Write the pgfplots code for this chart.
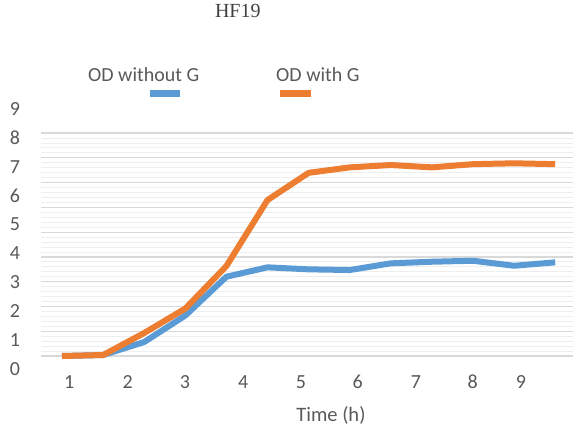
\documentclass[border=0pt]{standalone}
\usepackage{pgfplots}
\usepackage{pgfplotstable}
\pgfplotsset{compat=1.18}
\usepackage{fontspec}
\setmainfont{Carlito}
\newfontfamily\titlefont{Liberation Serif}
\definecolor{odblue}{HTML}{5B9BD5}
\definecolor{odorange}{HTML}{ED7D31}
\definecolor{txtgray}{HTML}{595959}
\definecolor{titlegray}{HTML}{404040}
\definecolor{majgrid}{HTML}{D9D9D9}
\definecolor{mingrid}{HTML}{EEEEEE}

\pgfplotstableread{
i without with
0 0.450 0.450
1 0.484 0.484
2 0.934 1.246
3 1.851 2.093
4 3.194 3.564
5 3.519 5.848
6 3.450 6.790
7 3.426 6.980
8 3.657 7.060
9 3.713 6.980
10 3.747 7.090
11 3.574 7.120
12 3.692 7.090
}\oddata

\begin{document}
\begin{tikzpicture}
\useasboundingbox (0,0) rectangle (573pt,428pt);
\begin{axis}[
  at={(41pt,57.55pt)}, anchor=south west,
  scale only axis, width=532pt, height=262.9pt,
  xmin=-0.511, xmax=12.433, ymin=-0.05, ymax=9.05,
  axis line style={draw=none},
  major tick length=0pt, minor tick length=0pt,
  xtick={0.178,1.599,2.993,4.411,5.815,7.195,8.613,9.993,11.168},
  xticklabels={1,2,3,4,5,6,7,8,9},
  ytick={0,1,...,9},
  yticklabels={0,1,2,3,4,5,6,7,8,9},
  /pgf/number format/assume math mode=true,
  xticklabel style={anchor=center, yshift=-11.5pt, text=txtgray, font=\fontsize{20}{24}\selectfont},
  yticklabel style={anchor=center, xshift=-26pt, text=txtgray, font=\fontsize{20}{24}\selectfont},
  minor ytick={0.450,0.62148,...,8.2},
  yminorgrids=true,
  minor grid style={mingrid, line width=0.9pt},
  extra y ticks={0.450,1.307,2.165,3.022,3.879,4.737,5.594,6.452,7.309,8.166},
  extra y tick labels={},
  extra y tick style={grid=major},
  major grid style={majgrid, line width=1.2pt},
  title={HF19},
  title style={at={(axis description cs:0.370,1.3444)}, anchor=center, text=titlegray, font=\titlefont\fontsize{20}{24}\selectfont},
  xlabel={Time (h)},
  xlabel style={at={(axis description cs:0.545,-0.1695)}, anchor=center, text=txtgray, font=\fontsize{20.5}{24}\selectfont},
  legend columns=2,
  legend cell align=left,
  legend style={at={(axis description cs:0.0883,1.1238)}, anchor=west, draw=none, fill=none, inner sep=0pt,
    nodes={inner sep=0pt, text=txtgray, font=\fontsize{20}{24}\selectfont},
    /tikz/every even column/.append style={column sep=77pt}},
]
\addplot[odblue, line width=6pt, line join=round,
  legend image code/.code={\draw[overlay, odblue, line width=7pt] (62pt,-18pt) -- (92pt,-18pt);}]
  table[x=i, y=without]{\oddata};
\addlegendentry{OD without G}
\addplot[odorange, line width=6pt, line join=round,
  legend image code/.code={\draw[overlay, odorange, line width=7pt] (4pt,-18pt) -- (35pt,-18pt);}]
  table[x=i, y=with]{\oddata};
\addlegendentry{OD with G}
\end{axis}
\end{tikzpicture}
\end{document}
